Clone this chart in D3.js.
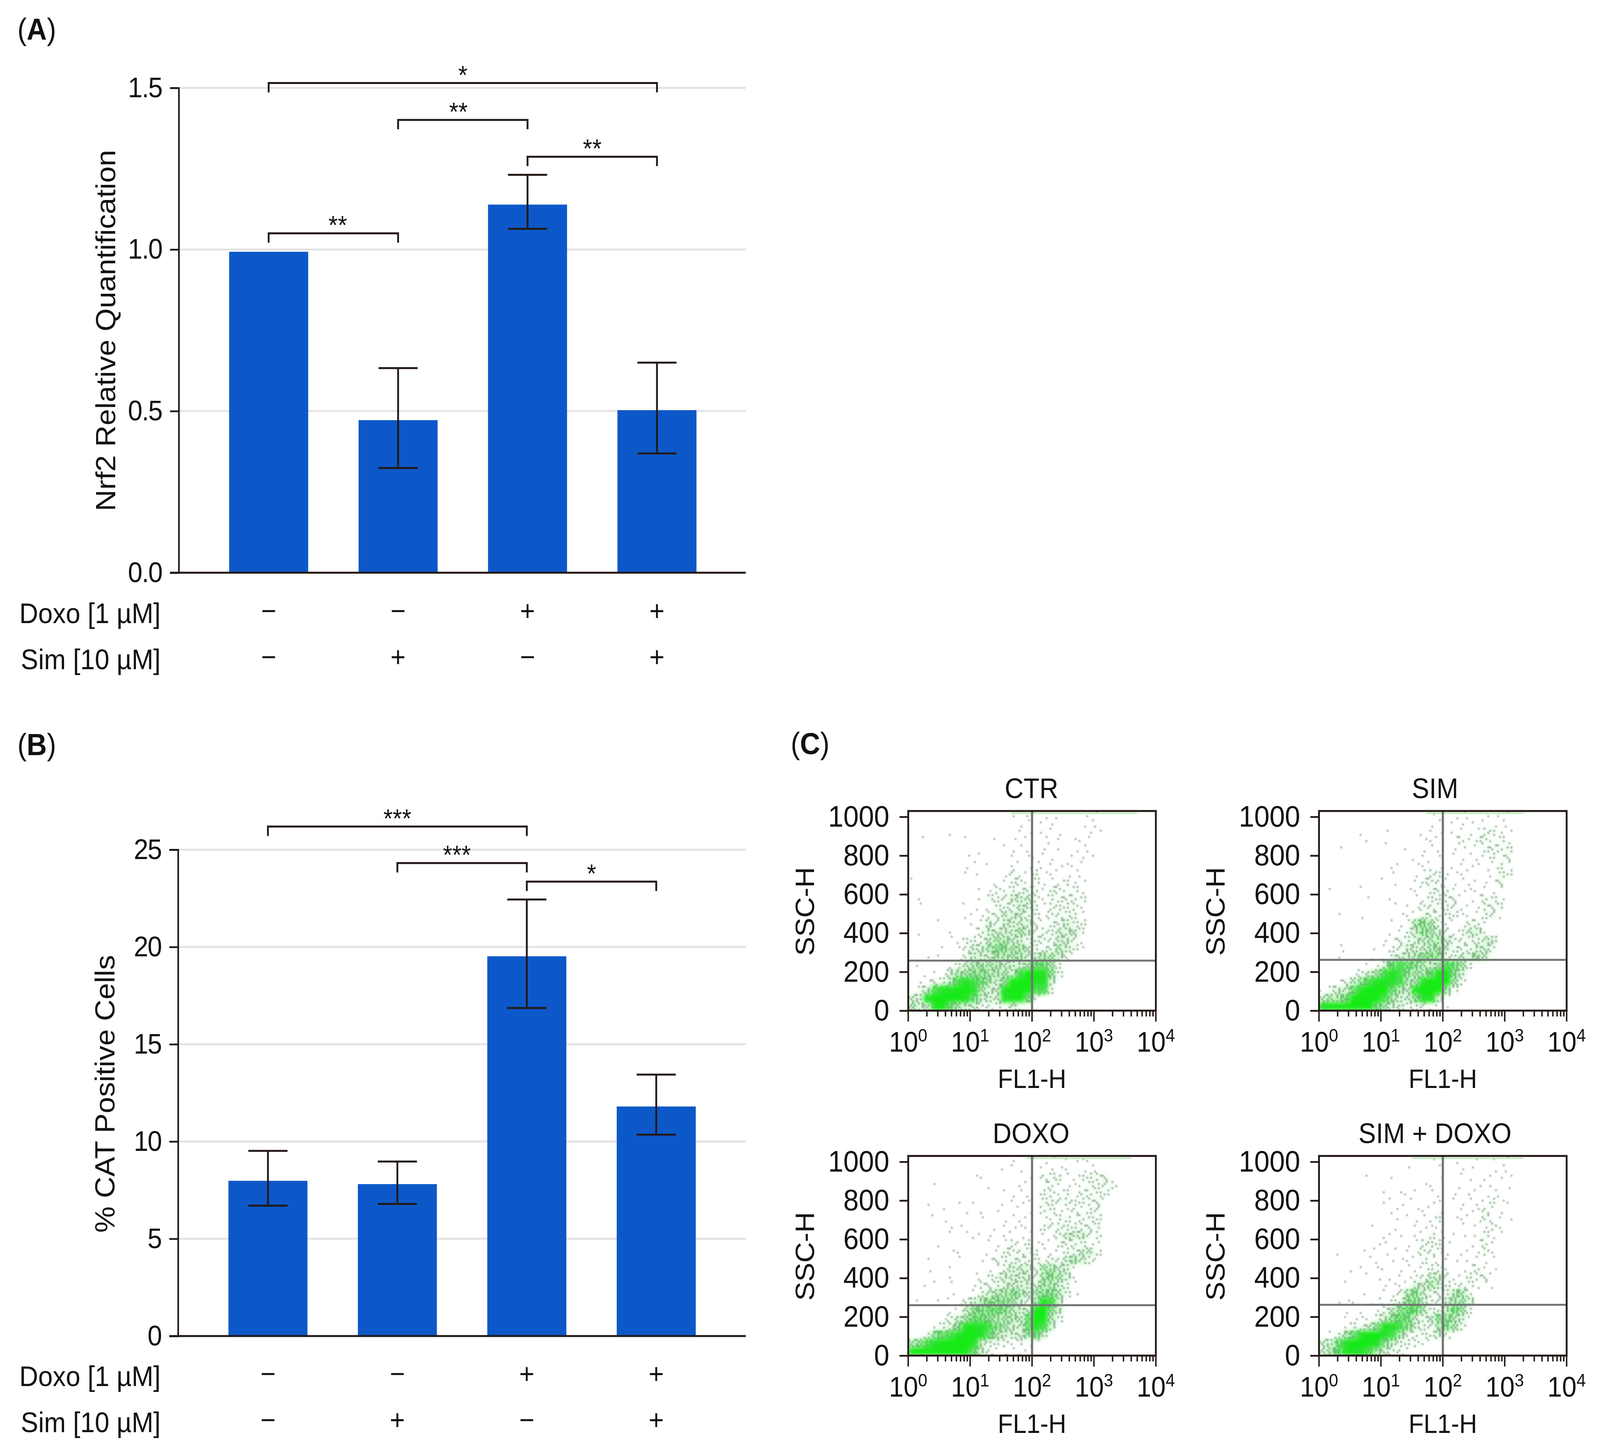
<!DOCTYPE html>
<html>
<head>
<meta charset="utf-8">
<script src="https://cdn.jsdelivr.net/npm/d3@7"></script>
<style>
  html,body{margin:0;padding:0;background:#fff;overflow:hidden}
  #fig{display:block;width:100vw;height:100vh}
  text{font-family:"Liberation Sans",Arial,sans-serif;fill:#111}
</style>
</head>
<body>
<svg id="fig" viewBox="0 0 4413 3704" preserveAspectRatio="none"></svg>
<script>
const INK = '#231815', BAR = '#0d58c8', GRID = '#e3e3e3';

// ---- panels A and B
const nrf2Values = [0.993, 0.472, 1.139, 0.503];
const nrf2Low = [null, 0.324, 1.064, 0.369];
const nrf2High = [null, 0.633, 1.231, 0.650];
const nrf2Ticks = [0, 0.5, 1.0, 1.5];
const nrf2Brackets = [[0,3,1.515,'*',1.5], [1,2,1.401,'**',1.466], [2,3,1.287,'**',2.5], [0,1,1.050,'**',0.534]];

const catValues = [7.98, 7.81, 19.52, 11.8];
const catLow = [6.70, 6.79, 16.86, 10.35];
const catHigh = [9.52, 8.97, 22.44, 13.44];
const catTicks = [0, 5, 10, 15, 20, 25];
const catBrackets = [[0,2,26.19,'***',1], [1,2,24.31,'***',1.46], [2,3,23.36,'*',2.5]];

const doxoSigns = ['−','−','+','+'];
const simSigns = ['−','+','−','+'];

// ---- panel C: binned event density, 0-9,
// 32 bins over FL1-H (log, left to right), 24 bins over SSC-H (top to bottom)
const ctrDensity = [
 "00000000000001011101000110000000",
 "00000000000000110110001110000000",
 "00000100000000110111000110000000",
 "01000001000101010111011100000000",
 "00000000000011110101011100000000",
 "00000001010001011110011100000000",
 "00000001101001111111111000000000",
 "00000001100012112111111000000000",
 "10000000000112212111211000000000",
 "00000000011212222122121000000000",
 "01000000012223332122222000000000",
 "01000001101222332122221000000000",
 "00000001112233322122221000000000",
 "00010000113233332122322000000000",
 "01000100123333432223332000000000",
 "00000112223443322223321000000000",
 "00001012334554432224321000000000",
 "00110012333444433443210000000000",
 "01000123444433346642000000000000",
 "00111344554443799852000000000000",
 "01122478764359998830000000000000",
 "02378899843389997720000000000000",
 "33899998633389962000000000000000",
 "43389643322213100000000000000000"];
const simDensity = [
 "00000000000000100111010110000000",
 "00000000000000110111011110000000",
 "00000100100001110111122110000000",
 "00000010100001110121221210000000",
 "00100000000101110110122220000000",
 "00000000000011010111112120000000",
 "00000000011011110111101210000000",
 "00000000010011221111011220000000",
 "00000000110012221111111200000000",
 "01000100000111222111111100000000",
 "00000010010011222211122100000000",
 "00000000010112222211122200000000",
 "00100100001112222211122100000000",
 "00000000011145421112210000000000",
 "00000000011235432123310000000000",
 "00000000112233443222233000000000",
 "00110001122333443222332000000000",
 "00100010123345552233431000000000",
 "00000011367654347642000000000000",
 "00001234787544688530000000000000",
 "00123578887448999420000000000000",
 "12336899964389994200000000000000",
 "34469999743358831000000000000000",
 "89999996433222111000000000000000"];
const doxoDensity = [
 "00000000000001001110111100000000",
 "00000000000011100111101110000000",
 "00000000110000010222112222000000",
 "00010000001000110121111222200000",
 "00000000000011110221212222000000",
 "00100010100011110222222221000000",
 "00001001010100110221121220000000",
 "00011000010011110112212220000000",
 "00000110000111110222222220000000",
 "00000101111011110112333220000000",
 "00010000001112121112222110000000",
 "00000110001122222111223320000000",
 "00100010011222222122343210000000",
 "00100100001123332443310000000000",
 "00000100112233332454310000000000",
 "00110100122233333443210000000000",
 "00000100123445434554210000000000",
 "01010112345554324873000000000000",
 "00000113556654338953000000000000",
 "00001234665444369942000000000000",
 "00012358887543368730000000000000",
 "00256789986433346300000000000000",
 "45789999832221211000000000000000",
 "99999999632111110000000000000000"];
const simDoxoDensity = [
 "00000000000000100100101010000000",
 "00000000000100010011001110000000",
 "00000010010000010011011110000000",
 "00000000000001100010101010000000",
 "00000000101110110101111100000000",
 "00000000111100110111112110000000",
 "00000000011011110011121100000000",
 "00000000001111120111121110000000",
 "00000010010011110010112100000000",
 "00000000111011211110121100000000",
 "00000001100112221001121000000000",
 "00100101110112221011121000000000",
 "00000011011112111101111000000000",
 "00001101101111221011211000000000",
 "00000011011112332112221000000000",
 "00010000111133432122111000000000",
 "00000100112453222442000000000000",
 "00111011122553223443000000000000",
 "00010101235664223642000000000000",
 "00011112356632355431000000000000",
 "00012235887532245420000000000000",
 "01246899874222232100000000000000",
 "33689998532221100000000000000000",
 "34688874322100000000000000000000"];
const plotTitles = ['CTR','SIM','DOXO','SIM + DOXO'];
const gateSsc = [258, 262, 260, 262];
const saturatedFl = [[46,5000],[54,2000],[80,4000],[32,2000]]; // green line of off-scale events along the top
const sscTicks = [0,200,400,600,800,1000];
const flDecades = [1,10,100,1000,10000];

const svg = d3.select('#fig');

function panelLetter(x, y, letter){
  const t = svg.append('text').attr('x',x).attr('y',y).attr('font-size',77);
  t.append('tspan').text('(');
  t.append('tspan').attr('font-weight',700).text(letter);
  t.append('tspan').text(')');
}

function barPanel(o){
  const g = svg.append('g');
  const x = d3.scalePoint().domain(d3.range(o.values.length)).range(o.xr);
  const y = d3.scaleLinear().domain(o.ydomain).range(o.yr);
  // grid goes under the bars
  g.selectAll('.grid').data(o.ticks.filter(t=>t>0)).join('line')
    .attr('x1',o.axisX).attr('x2',2057).attr('y1',y).attr('y2',y)
    .attr('stroke',GRID).attr('stroke-width',5);
  g.selectAll('.bar').data(o.values).join('rect')
    .attr('x',(d,i)=>x(i)-109).attr('width',218)
    .attr('y',d=>y(d)).attr('height',d=>y(0)-y(d)).attr('fill',BAR);
  const ax = g.append('g').attr('transform',`translate(${o.axisX},0)`)
    .call(d3.axisLeft(y).tickValues(o.ticks).tickFormat(o.fmt).tickSize(24).tickPadding(22));
  ax.select('.domain').attr('stroke',INK).attr('stroke-width',4.5);
  ax.selectAll('.tick line').attr('stroke',INK).attr('stroke-width',4.5);
  ax.selectAll('.tick text').attr('font-size',72).attr('letter-spacing',-2).attr('fill','#111')
    .attr('font-family','"Liberation Sans",Arial,sans-serif');
  g.append('line').attr('x1',o.axisX-24).attr('x2',2057).attr('y1',y(0)).attr('y2',y(0)).attr('stroke',INK).attr('stroke-width',5);
  // error bars
  o.values.forEach((v,i)=>{
    if(o.low[i]==null) return;
    const e = g.append('g').attr('stroke',INK).attr('stroke-width',5);
    e.append('line').attr('x1',x(i)).attr('x2',x(i)).attr('y1',y(o.low[i])).attr('y2',y(o.high[i]));
    [o.low[i],o.high[i]].forEach(b=>e.append('line').attr('x1',x(i)-54).attr('x2',x(i)+54).attr('y1',y(b)).attr('y2',y(b)));
  });
  // significance brackets
  o.brackets.forEach(([a,b,lev,stars,at])=>{
    const by = y(lev);
    g.append('path').attr('d',`M${x(a)},${by+24} V${by} H${x(b)} V${by+24}`)
      .attr('fill','none').attr('stroke',INK).attr('stroke-width',5);
    g.append('text').attr('x',x(0)+at*(x(1)-x(0))).attr('y',by+2).attr('text-anchor','middle').attr('font-size',66).text(stars);
  });
  // treatment rows
  [[o.rowY[0],'Doxo [1 µM]',doxoSigns],[o.rowY[1],'Sim [10 µM]',simSigns]].forEach(([ry,lab,signs])=>{
    g.append('text').attr('x',443).attr('y',ry+7).attr('text-anchor','end').attr('font-size',72).text(lab);
    g.selectAll(null).data(signs).join('text').attr('x',(d,i)=>x(i)).attr('y',ry).attr('text-anchor','middle').attr('font-size',72).text(d=>d);
  });
  g.append('text').attr('transform',`translate(${o.labX},${o.labY}) rotate(-90)`)
    .attr('text-anchor','middle').attr('font-size',76).text(o.label);
}

panelLetter(48,102,'A');
barPanel({values:nrf2Values, low:nrf2Low, high:nrf2High, ticks:nrf2Ticks, brackets:nrf2Brackets, fmt:d3.format('.1f'),
  xr:[741,1812], yr:[1466,225], ydomain:[0,1.5], axisX:493, rowY:[1588,1706], label:'Nrf2 Relative Quantification', labX:318, labY:846});

panelLetter(48,1933,'B');
barPanel({values:catValues, low:catLow, high:catHigh, ticks:catTicks, brackets:catBrackets, fmt:d3.format('d'),
  xr:[739,1810], yr:[3420,2175], ydomain:[0,25], axisX:491, rowY:[3541,3659], label:'% CAT Positive Cells', labX:316, labY:2800});

// panel C
panelLetter(2181,1930,'C');

const defs = svg.append('defs');
defs.append('filter').attr('id','soft').attr('x','-5%').attr('y','-5%').attr('width','110%').attr('height','110%')
  .append('feGaussianBlur').attr('stdDeviation',1.8);
defs.append('filter').attr('id','haze').attr('x','-5%').attr('y','-5%').attr('width','110%').attr('height','110%')
  .append('feGaussianBlur').attr('stdDeviation',6);

const DOTS_PER_LEVEL = [0,1,3,5,7,9,10,8,6,0];
const SUBCELL = [0,10,2,8,5,15,7,13,1,11,3,9,4,14,6,12];
const dotColor = d3.scaleLinear().domain([1,3,5,8]).range(['#9fb0a2','#83a98a','#62b86c','#3fd84a']);
const hazeOpacity = d3.scaleLinear().domain([1,2,4,6,8,9]).range([0,.04,.22,.5,1,1]);

function dotPlot(grid, i, left, top){
  const w = 683, h = 511;
  const g = svg.append('g');
  const x = d3.scaleLog().domain([1,1e4]).range([left,left+w]);
  const y = d3.scaleLinear().domain([0,1030]).range([top+h,top]);
  const nCol = grid[0].length, nRow = grid.length;
  const dec = 4/nCol, ssc = 1030/nRow;

  const clip = 'clip'+i;
  defs.append('clipPath').attr('id',clip).append('rect').attr('x',left).attr('y',top).attr('width',w).attr('height',h);

  // smooth density under the individual marks
  const bins = [], dots = [];
  grid.forEach((row,r)=>{
    [...row].forEach((ch,c)=>{
      const lev = +ch, n = DOTS_PER_LEVEL[lev];
      if(lev>1) bins.push({lev, c, r});
      for(let k=0;k<n;k++){
        const s = SUBCELL[(k+c*5+r*7)%16];
        dots.push({lev, fl:Math.pow(10,(c+((s%4)+.5)/4)*dec), ss:1030-(r+((s>>2)+.5)/4)*ssc});
      }
    });
  });
  const field = g.append('g').attr('clip-path',`url(#${clip})`);
  field.append('g').attr('filter','url(#haze)').selectAll('rect').data(bins).join('rect')
    .attr('x',d=>x(Math.pow(10,d.c*dec))).attr('width',d=>x(Math.pow(10,(d.c+1)*dec))-x(Math.pow(10,d.c*dec))+.5)
    .attr('y',d=>y(1030-d.r*ssc)).attr('height',y(0)-y(ssc)+.5)
    .attr('fill','#14ea14').attr('opacity',d=>hazeOpacity(d.lev));
  field.append('g').attr('filter','url(#soft)').selectAll('rect').data(dots).join('rect')
    .attr('x',d=>x(d.fl)-2.5).attr('y',d=>y(d.ss)-2.5).attr('width',5).attr('height',5)
    .attr('fill',d=>dotColor(d.lev));

  g.append('line').attr('x1',x(saturatedFl[i][0])).attr('x2',x(saturatedFl[i][1])).attr('y1',y(1018)).attr('y2',y(1018))
    .attr('stroke','#aef0ae').attr('stroke-width',3);

  // quadrant gates
  g.append('line').attr('x1',left).attr('x2',left+w).attr('y1',y(gateSsc[i])).attr('y2',y(gateSsc[i])).attr('stroke','#6f7471').attr('stroke-width',5);
  g.append('line').attr('x1',x(100)).attr('x2',x(100)).attr('y1',top).attr('y2',top+h).attr('stroke','#6f7471').attr('stroke-width',6);

  // axes
  const ay = g.append('g').attr('transform',`translate(${left},0)`)
    .call(d3.axisLeft(y).tickValues(sscTicks).tickSize(24).tickPadding(28).tickFormat(d3.format('d')));
  ay.select('.domain').remove();
  ay.selectAll('.tick line').attr('stroke',INK).attr('stroke-width',4.5);
  ay.selectAll('.tick text').attr('font-size',76).attr('fill','#111').attr('font-family','"Liberation Sans",Arial,sans-serif');

  const minor = [];
  flDecades.slice(0,4).forEach(d=>d3.range(2,10).forEach(m=>minor.push(d*m)));
  g.selectAll('.minor').data(minor).join('line').attr('x1',x).attr('x2',x).attr('y1',top+h).attr('y2',top+h+15).attr('stroke',INK).attr('stroke-width',4);
  g.selectAll('.major').data(flDecades).join('line').attr('x1',x).attr('x2',x).attr('y1',top+h).attr('y2',top+h+28).attr('stroke',INK).attr('stroke-width',4);

  g.append('rect').attr('x',left).attr('y',top).attr('width',w).attr('height',h)
    .attr('fill','none').attr('stroke',INK).attr('stroke-width',5);

  flDecades.forEach((d,k)=>{
    const t = g.append('text').attr('x',x(d)).attr('y',top+h+105).attr('text-anchor','middle').attr('font-size',72);
    t.append('tspan').text('10');
    t.append('tspan').attr('dy',-26).attr('font-size',46).text(k);
  });
  g.append('text').attr('x',x(100)).attr('y',top+h+198).attr('text-anchor','middle').attr('font-size',68).text('FL1-H');
  const tx = i===0?2845:i===2?2844:3958;
  g.append('text').attr('x',tx).attr('y',top-33).attr('text-anchor','middle').attr('font-size',72).text(plotTitles[i]);
  g.append('text').attr('transform',`translate(${left-260},${top+257}) rotate(-90)`)
    .attr('text-anchor','middle').attr('font-size',73).text('SSC-H');
}

dotPlot(ctrDensity, 0, 2505, 2076);
dotPlot(simDensity, 1, 3638, 2076);
dotPlot(doxoDensity, 2, 2505, 2959);
dotPlot(simDoxoDensity, 3, 3638, 2959);
</script>
</body>
</html>
